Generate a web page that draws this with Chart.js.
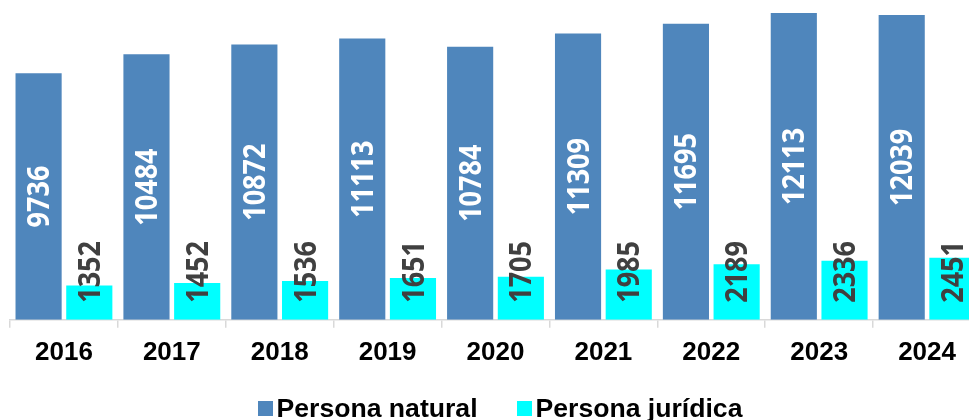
<!DOCTYPE html>
<html>
<head>
<meta charset="utf-8">
<script src="https://cdn.jsdelivr.net/npm/chart.js@4/dist/chart.umd.min.js"></script>
<style>
	html, body { margin: 0; padding: 0; background: #fff; overflow: hidden; }
	#painel { position: relative; width: 969px; height: 420px; overflow: hidden; }
	#grafico { position: absolute; left: 0; top: 0; }
	#legenda { position: absolute; left: 0; top: 393px; width: 1000px; display: flex; justify-content: center;
		font: bold 26.6px "Liberation Sans", Arial, sans-serif; line-height: 30px; color: #000; }
	.item { display: flex; align-items: center; margin: 0 19.5px; white-space: nowrap; }
	.caixa { width: 15px; height: 15px; margin-right: 4px; }
</style>
</head>
<body>
<div id="painel">
	<canvas id="grafico" width="982" height="420"></canvas>
	<div id="legenda"></div>
</div>
<script>
var anos = ['2016', '2017', '2018', '2019', '2020', '2021', '2022', '2023', '2024'];
var personaNatural = [9736, 10484, 10872, 11113, 10784, 11309, 11695, 12113, 12039];
var personaJuridica = [1352, 1452, 1536, 1651, 1705, 1985, 2189, 2336, 2451];
var nomesSeries = ['Persona natural', 'Persona jurídica'];
var coresSeries = ['#4F86BC', '#00FFFF'];
var coresRotulos = ['#FFFFFF', '#404040'];

// rótulos girados dentro das barras
var rotulosBarras = {
	id: 'rotulosBarras',
	afterDatasetsDraw: function(chart) {
		var ctx = chart.ctx;
		chart.data.datasets.forEach(function(ds, i) {
			chart.getDatasetMeta(i).data.forEach(function(barra, j) {
				ctx.save();
				ctx.font = 'bold 30px "Open Sans"';
				ctx.fillStyle = coresRotulos[i];
				ctx.textBaseline = 'middle';
				if (i === 0) {
					ctx.translate(barra.x, (barra.y + barra.base) / 2);
					ctx.textAlign = 'center';
				} else {
					ctx.translate(barra.x, barra.base - 17);
					ctx.textAlign = 'left';
				}
				ctx.rotate(-Math.PI / 2);
				ctx.scale(0.9, 1);
				ctx.fillText(String(ds.data[j]), 0, 2);
				ctx.restore();
			});
		});
	}
};

function montarLegenda(chart) {
	var legenda = document.getElementById('legenda');
	legenda.innerHTML = '';
	chart.data.datasets.forEach(function(ds) {
		var item = document.createElement('div');
		item.className = 'item';
		var caixa = document.createElement('span');
		caixa.className = 'caixa';
		caixa.style.background = ds.backgroundColor;
		var texto = document.createElement('span');
		texto.textContent = ds.label;
		item.appendChild(caixa);
		item.appendChild(texto);
		legenda.appendChild(item);
	});
}

var ctx = document.getElementById('grafico').getContext('2d');
var grafico = new Chart(ctx, {
	type: 'bar',
	data: {
		labels: anos,
		datasets: [{
			label: nomesSeries[0],
			backgroundColor: coresSeries[0],
			data: personaNatural
		}, {
			label: nomesSeries[1],
			backgroundColor: coresSeries[1],
			data: personaJuridica
		}]
	},
	options: {
		responsive: false,
		animation: false,
		categoryPercentage: 0.94,
		barPercentage: 0.91,
		layout: { padding: { left: 10, right: 1, top: 0, bottom: 43 } },
		plugins: {
			legend: { display: false },
			tooltip: { enabled: false }
		},
		scales: {
			x: {
				grid: { display: true, drawOnChartArea: false, drawTicks: true, tickLength: 8, color: '#D9D9D9', lineWidth: 1.5, offset: true },
				border: { display: true, color: '#D9D9D9', width: 1.5 },
				ticks: {
					color: '#000',
					padding: 9,
					maxRotation: 0,
					autoSkip: false,
					font: { family: '"Liberation Sans", Arial, sans-serif', size: 26, weight: 'bold' }
				}
			},
			y: { display: false, min: 0, max: 12630 }
		}
	},
	plugins: [rotulosBarras]
});
montarLegenda(grafico);
</script>
</body>
</html>
